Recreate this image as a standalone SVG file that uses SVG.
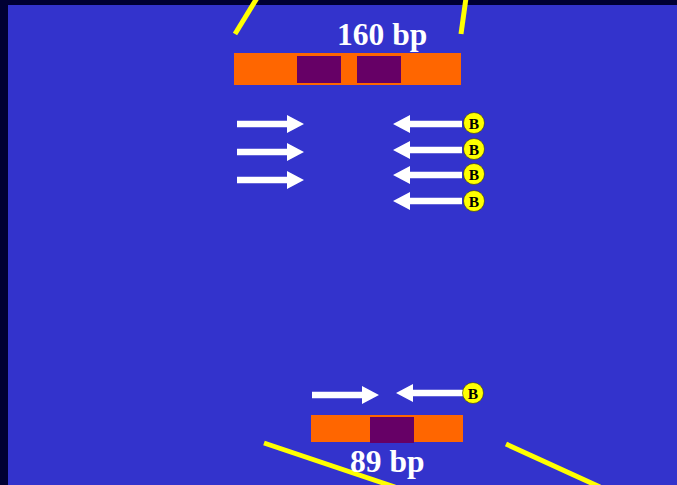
<svg xmlns="http://www.w3.org/2000/svg" width="677" height="485" viewBox="0 0 677 485">
<defs>
<style>
.bar{fill:#ff6600}
.box{fill:#660066}
.ln{stroke:#ffff00;stroke-width:5;fill:none}
.lbl{font-family:"Liberation Serif","Times New Roman",serif;font-weight:bold;fill:#ffffff;font-size:31.5px}
.bt{font-family:"Liberation Serif","Times New Roman",serif;font-weight:bold;fill:#000000;font-size:15.5px;text-anchor:middle}
.bc{fill:#ffff00;stroke:#333300;stroke-width:0.6}
.arr{fill:#ffffff}
</style>
<path id="ra" d="M0,-3.2 L50,-3.2 L50,-9 L67,0 L50,9 L50,3.2 L0,3.2 Z"/>
<path id="la" d="M0,0 L17,-9 L17,-3.2 L69,-3.2 L69,3.2 L17,3.2 L17,9 Z"/>
</defs>
<rect x="0" y="0" width="677" height="485" fill="#000033"/>
<rect x="8" y="5" width="669" height="480" fill="#3333cc"/>
<g id="lines-top">
<line class="ln" x1="235" y1="34" x2="257" y2="-2"/>
<line class="ln" x1="461" y1="34" x2="466" y2="-2"/>
</g>
<g id="fragment160">
<rect class="bar" x="234" y="53" width="227" height="32"/>
<rect class="box" x="297" y="56" width="44" height="27"/>
<rect class="box" x="357" y="56" width="44" height="27"/>
<text class="lbl" x="337" y="45">160 bp</text>
</g>
<g id="primers-top">
<use href="#ra" class="arr" x="237" y="124"/>
<use href="#ra" class="arr" x="237" y="152"/>
<use href="#ra" class="arr" x="237" y="180"/>
<use href="#la" class="arr" x="393" y="124"/>
<use href="#la" class="arr" x="393" y="150"/>
<use href="#la" class="arr" x="393" y="175"/>
<use href="#la" class="arr" x="393" y="201"/>
</g>
<g id="biotin-top">
<circle class="bc" cx="474" cy="123" r="10.5"/><text class="bt" x="474" y="128.5">B</text>
<circle class="bc" cx="474" cy="149" r="10.5"/><text class="bt" x="474" y="154.5">B</text>
<circle class="bc" cx="474" cy="174" r="10.5"/><text class="bt" x="474" y="179.5">B</text>
<circle class="bc" cx="474" cy="201" r="10.5"/><text class="bt" x="474" y="206.5">B</text>
</g>
<g id="lines-bottom">
<line class="ln" x1="264" y1="443" x2="395" y2="487"/>
<line class="ln" x1="506" y1="444" x2="600" y2="487"/>
</g>
<g id="fragment89">
<rect class="bar" x="311" y="415" width="152" height="27"/>
<rect class="box" x="370" y="417" width="44" height="26"/>
<text class="lbl" x="350" y="472">89 bp</text>
</g>
<g id="primers-bottom">
<use href="#ra" class="arr" x="312" y="395"/>
<use href="#la" class="arr" x="396" y="393"/>
<circle class="bc" cx="473" cy="393" r="10.5"/><text class="bt" x="473" y="398.5">B</text>
</g>
</svg>
